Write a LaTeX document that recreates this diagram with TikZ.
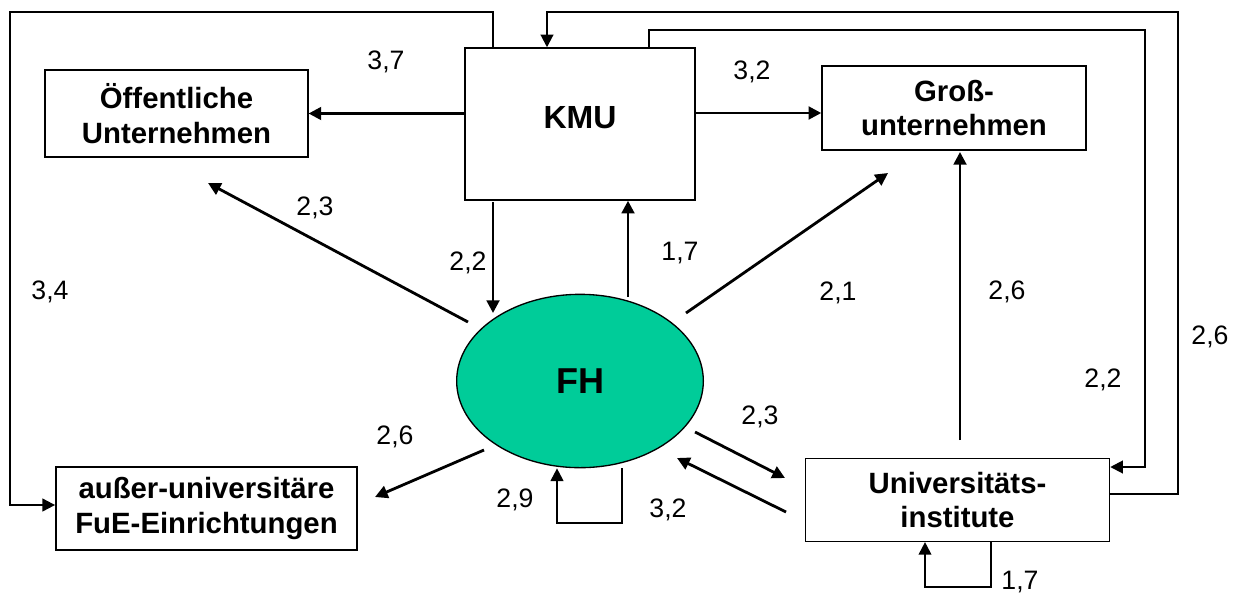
\documentclass[tikz,border=0pt]{standalone}
\usepackage{fontspec}
\setmainfont{Liberation Sans}
\usetikzlibrary{arrows.meta,shapes.geometric}
\definecolor{fhgreen}{RGB}{0,204,153}
\begin{document}
\begin{tikzpicture}[x=0.75pt,y=-0.75pt,
  box/.style={draw,line width=1.1pt,inner sep=0pt,align=center,font=\fontsize{22}{26}\selectfont\bfseries},
  con/.style={line width=2.1pt,-{Triangle[length=9.5pt,width=9.5pt]}},
  loopl/.style={line width=1.5pt,-{Triangle[length=9.5pt,width=9.5pt]}},
  num/.style={font=\fontsize{20}{24}\selectfont}]
\useasboundingbox (0,0) rectangle (1234,593);
% boxes
\node[box,minimum width=197pt,minimum height=65pt] (oeff) at (176.5,113.5) {Öffentliche\\Unternehmen};
\node[box,minimum width=172.5pt,minimum height=114pt] (kmu) at (580,124) {};
\node[font=\fontsize{24}{28}\selectfont\bfseries] (kmut) at (580,118) {KMU};
\node[box,minimum width=198pt,minimum height=63pt] (gross) at (954,108) {Groß-\\unternehmen};
\node[box,minimum width=226pt,minimum height=62pt] (ausser) at (206.5,508.5) {außer-universitäre\\FuE-Einrichtungen};
\node[box,minimum width=228pt,minimum height=62pt] (uni) at (957.5,500) {Universitäts-\\institute};
\node[ellipse,draw,line width=1pt,fill=fhgreen,minimum width=185pt,minimum height=130pt,inner sep=0pt,font=\fontsize{27}{32}\selectfont\bfseries] (fh) at (580,381) {FH};
% coordinates for free ends
\coordinate (a1) at (468,322); \coordinate (a2) at (208,183);
\coordinate (b1) at (686,313); \coordinate (b2) at (888,173);
\coordinate (c1) at (695,432); \coordinate (c2) at (785,478);
\coordinate (d1) at (786,512); \coordinate (d2) at (677,458);
\coordinate (e1) at (484,450); \coordinate (e2) at (375,497);
% KMU horizontal arrows
\draw[con] (kmu.west |- oeff.east) -- (oeff.east);
\draw[con] (kmu.east |- 0,113) -- (gross.west |- 0,113);
% KMU <-> FH
\draw[con] (493,202) -- (493,313);
\draw[con] (628,297) -- (kmu.south -| 628,0);
% diagonals
\draw[con] (a1) -- (a2);
\draw[con] (b1) -- (b2);
\draw[con] (c1) -- (c2);
\draw[con] (d1) -- (d2);
\draw[con] (e1) -- (e2);
% Uni -> Gross
\draw[con] (960,440) -- (960,152);
% outer left loop KMU -> ausser
\draw[loopl] (kmu.north -| 493,0) -- (493,12) -- (10,12) -- (10,505) -- (ausser.west |- 0,505);
% outer right loop Uni -> KMU
\draw[loopl] (uni.east |- 0,494) -- (1178,494) -- (1178,12) -- (547,12) -- (kmu.north -| 547,0);
% inner right loop KMU -> Uni
\draw[loopl] (kmu.north -| 649,0) -- (649,30) -- (1145,30) -- (1145,467) -- (uni.east |- 0,467);
% self loops
\draw[loopl] (622,468) -- (622,523) -- (557,523) -- (fh.south -| 557,0);
\draw[loopl] (991,542) -- (991,587) -- (925,587) -- (uni.south -| 925,0);
% labels
\node[num] (l1) at (386,62) {3,7};
\node[num] (l2) at (752,72) {3,2};
\node[num] (l3) at (315,208) {2,3};
\node[num] (l4) at (468,263) {2,2};
\node[num] (l5) at (680,253) {1,7};
\node[num] (l6) at (838,293) {2,1};
\node[num] (l7) at (1007,292) {2,6};
\node[num] (l8) at (50,292) {3,4};
\node[num] (l9) at (1210,337) {2,6};
\node[num] (l10) at (1103,380) {2,2};
\node[num] (l11) at (760,417) {2,3};
\node[num] (l12) at (668,510) {3,2};
\node[num] (l13) at (395,437) {2,6};
\node[num] (l14) at (515,500) {2,9};
\node[num] (l15) at (1020,582) {1,7};
\end{tikzpicture}
\end{document}
